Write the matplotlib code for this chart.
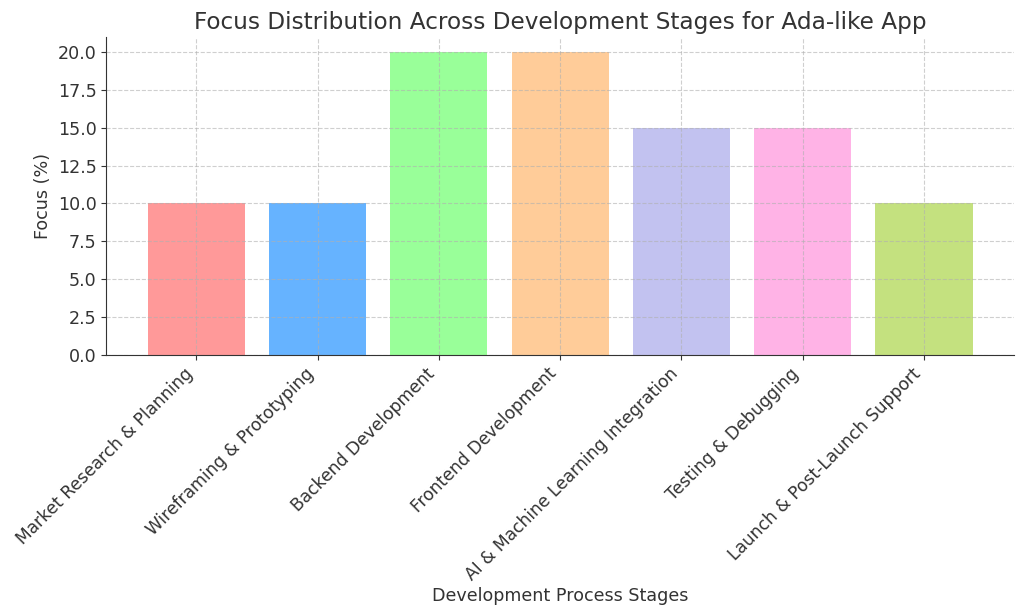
import matplotlib.pyplot as plt

stages = ["Market Research & Planning", "Wireframing & Prototyping", "Backend Development",
          "Frontend Development", "AI & Machine Learning Integration", "Testing & Debugging",
          "Launch & Post-Launch Support"]
focus = [10, 10, 20, 20, 15, 15, 10]
colors = ["#ff9999", "#66b3ff", "#99ff99", "#ffcc99", "#c2c2f0", "#ffb3e6", "#c4e17f"]

plt.rcParams["text.color"] = "#333333"
plt.rcParams["axes.labelcolor"] = "#333333"
plt.rcParams["xtick.color"] = "#333333"
plt.rcParams["ytick.color"] = "#333333"
plt.rcParams["axes.edgecolor"] = "#333333"

fig, ax = plt.subplots(figsize=(10.24, 6.16), dpi=100)
ax.bar(stages, focus, color=colors)
ax.set_title("Focus Distribution Across Development Stages for Ada-like App", fontsize=16.7)
ax.set_xlabel("Development Process Stages", fontsize=12.6, labelpad=2)
ax.set_ylabel("Focus (%)", fontsize=12.6)
ax.tick_params(axis="y", labelsize=12.6)
ax.tick_params(axis="x", labelsize=12.3)
plt.xticks(rotation=45, ha="right")
ax.grid(True, linestyle="--", color="#b0b0b0", alpha=0.6, linewidth=0.8)
ax.spines["top"].set_visible(False)
ax.spines["right"].set_visible(False)

plt.subplots_adjust(left=0.104, right=0.99, top=0.94, bottom=0.424)
plt.savefig("out.png")
